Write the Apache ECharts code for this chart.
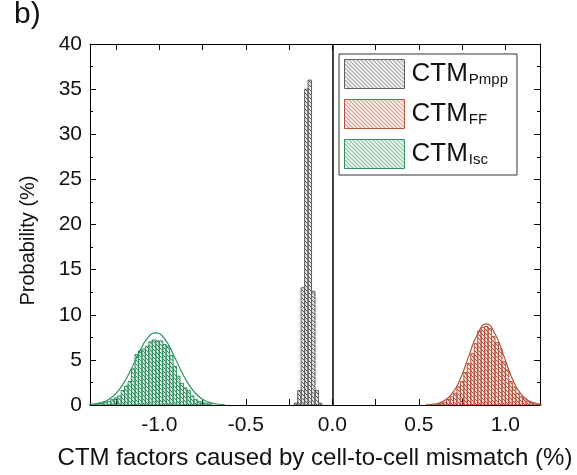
<!DOCTYPE html>
<html>
<head>
<meta charset="utf-8">
<script src="https://cdn.jsdelivr.net/npm/echarts@6/dist/echarts.min.js"></script>
<style>
  html, body { margin: 0; padding: 0; background: #fff; }
  #chart { width: 577px; height: 475px; }
</style>
</head>
<body>
<div id="chart"></div>
<script>
// Histogram bin width (same for all three distributions)
const BIN = 0.02;

// CTM_Pmpp histogram: bin centres and probabilities (%)
const pmppCenters = [-0.21, -0.19, -0.17, -0.15, -0.13, -0.11, -0.09, -0.07];
const pmppValues  = [0.2, 1.6, 13.0, 35.0, 36.0, 12.6, 1.6, 0.2];

// CTM_FF histogram
const ffCenters = [0.61, 0.63, 0.65, 0.67, 0.69, 0.71, 0.73, 0.75, 0.77, 0.79,
                   0.81, 0.83, 0.85, 0.87, 0.89, 0.91, 0.93, 0.95, 0.97, 0.99,
                   1.01, 1.03, 1.05, 1.07, 1.09, 1.11, 1.13, 1.15, 1.17, 1.19];
const ffValues  = [0.1, 0.2, 0.3, 0.6, 0.9, 1.3, 2.0, 2.6, 3.6, 4.6,
                   5.7, 6.8, 8.2, 8.6, 8.7, 8.5, 7.6, 6.9, 6.2, 4.8,
                   3.9, 2.6, 2.0, 1.3, 0.9, 0.7, 0.4, 0.3, 0.2, 0.1];

// CTM_Isc histogram
const iscCenters = [-1.39, -1.37, -1.35, -1.33, -1.31, -1.29, -1.27, -1.25, -1.23, -1.21,
                    -1.19, -1.17, -1.15, -1.13, -1.11, -1.09, -1.07, -1.05, -1.03, -1.01,
                    -0.99, -0.97, -0.95, -0.93, -0.91, -0.89, -0.87, -0.85, -0.83, -0.81,
                    -0.79, -0.77, -0.75, -0.73, -0.71];
const iscValues  = [0.1, 0.1, 0.2, 0.2, 0.3, 0.4, 0.6, 0.8, 1.0, 1.6,
                    2.1, 2.6, 4.0, 5.6, 6.0, 6.2, 6.5, 7.0, 7.2, 7.1,
                    7.1, 6.7, 6.5, 5.5, 4.3, 3.2, 2.4, 1.9, 1.6, 1.0,
                    0.6, 0.4, 0.3, 0.2, 0.1];

// Fitted normal curves, sampled points [x, probability]
const ffFit = [[0.54, 0.02], [0.59, 0.1], [0.64, 0.4], [0.69, 1.2], [0.74, 2.9],
               [0.79, 5.5], [0.84, 7.9], [0.89, 9.0], [0.94, 7.9], [0.99, 5.5],
               [1.04, 2.9], [1.09, 1.2], [1.14, 0.4], [1.19, 0.1], [1.24, 0.02]];
const iscFit = [[-1.42, 0.03], [-1.37, 0.11], [-1.32, 0.35], [-1.27, 0.91], [-1.22, 2.0],
                [-1.17, 3.66], [-1.12, 5.65], [-1.07, 7.35], [-1.02, 8.0], [-0.97, 7.35],
                [-0.92, 5.65], [-0.87, 3.66], [-0.82, 2.0], [-0.77, 0.91], [-0.72, 0.35],
                [-0.67, 0.11], [-0.62, 0.03]];

// Axis ticks and labels
const xTickValues  = [-1.25, -1.0, -0.75, -0.5, -0.25, 0, 0.25, 0.5, 0.75, 1.0];
const xLabelValues = [-1.0, -0.5, 0, 0.5, 1.0];

const COLORS = { pmpp: '#5e5e5e', ff: '#b8513a', isc: '#2f9160' };
const FONT = '"Liberation Sans", Arial, Helvetica, sans-serif';

// Diagonal hatch fill ("\\\\" direction)
function hatch(color, tint, size) {
  const c = document.createElement('canvas');
  c.width = size; c.height = size;
  const g = c.getContext('2d');
  g.fillStyle = tint;
  g.fillRect(0, 0, size, size);
  g.strokeStyle = color;
  g.lineWidth = 1;
  for (const off of [-size, 0, size]) {
    g.beginPath();
    g.moveTo(-1 + off, -1);
    g.lineTo(size + 1 + off, size + 1);
    g.stroke();
  }
  return { image: c, repeat: 'repeat' };
}

const fills = {
  pmpp: hatch(COLORS.pmpp, 'rgba(94,94,94,0.18)', 4),
  ff:   hatch(COLORS.ff,   'rgba(184,81,58,0.18)', 4),
  isc:  hatch(COLORS.isc,  'rgba(47,145,96,0.18)', 4)
};
const legendFills = {
  pmpp: hatch(COLORS.pmpp, 'rgba(255,255,255,0)', 4),
  ff:   hatch(COLORS.ff,   'rgba(255,255,255,0)', 4),
  isc:  hatch(COLORS.isc,  'rgba(255,255,255,0)', 4)
};

function histSeries(name, centers, values, key) {
  return {
    type: 'custom',
    name: name,
    data: centers.map((c, i) => [c, values[i]]),
    encode: { x: 0, y: 1 },
    itemStyle: { color: fills[key], borderColor: COLORS[key], borderWidth: 1 },
    clip: true,
    z: 2,
    renderItem: function (params, api) {
      const c = api.value(0), v = api.value(1);
      const p0 = api.coord([c - BIN / 2, v]);
      const p1 = api.coord([c + BIN / 2, 0]);
      return {
        type: 'rect',
        shape: { x: p0[0], y: p0[1], width: p1[0] - p0[0], height: p1[1] - p0[1] },
        style: { fill: fills[key], stroke: COLORS[key], lineWidth: 1 }
      };
    }
  };
}

function fitSeries(name, pts, key) {
  return {
    type: 'line',
    name: name,
    data: pts,
    smooth: true,
    showSymbol: false,
    silent: true,
    clip: true,
    z: 3,
    lineStyle: { color: COLORS[key], width: 1.2 },
    itemStyle: { color: COLORS[key] }
  };
}

const tickStyle = { inside: true, length: 6, lineStyle: { color: '#000', width: 1 } };
const axisLine = { show: true, onZero: false, lineStyle: { color: '#000', width: 1 } };

const chart = echarts.init(document.getElementById('chart'), null, { renderer: 'canvas' });

chart.setOption({
  animation: false,
  backgroundColor: '#fff',
  grid: { left: 90, right: 37, top: 44, bottom: 68 },
  graphic: [{
    type: 'text', left: 14, top: 0,
    style: { text: 'b)', font: '30px ' + FONT, fill: '#111' }
  }],
  legend: {
    orient: 'vertical',
    left: 339, top: 54,
    padding: [5, 9, 6, 5],
    itemWidth: 60, itemHeight: 29, itemGap: 10,
    borderColor: '#333', borderWidth: 1,
    backgroundColor: '#fff',
    selectedMode: false,
    data: [
      { name: 'Pmpp', icon: 'rect', itemStyle: { color: legendFills.pmpp, borderColor: COLORS.pmpp, borderWidth: 1 } },
      { name: 'FF', icon: 'rect', itemStyle: { color: legendFills.ff, borderColor: COLORS.ff, borderWidth: 1 } },
      { name: 'Isc', icon: 'rect', itemStyle: { color: legendFills.isc, borderColor: COLORS.isc, borderWidth: 1 } }
    ],
    formatter: function (n) { return '{m|CTM}{s|' + n + '}'; },
    textStyle: {
      rich: {
        m: { fontSize: 26, lineHeight: 27, fontFamily: FONT, color: '#111', padding: [0, 0, 0, 2] },
        s: { fontSize: 15, lineHeight: 15, fontFamily: FONT, color: '#111', padding: [12, 0, 0, 1] }
      }
    }
  },
  xAxis: [{
    type: 'value', min: -1.4, max: 1.2,
    position: 'bottom',
    axisLine: axisLine,
    splitLine: { show: false },
    axisTick: Object.assign({ customValues: xTickValues }, tickStyle),
    axisLabel: {
      customValues: xLabelValues,
      formatter: v => v.toFixed(1),
      fontSize: 21, fontFamily: FONT, color: '#111', margin: 10
    },
    name: 'CTM factors caused by cell-to-cell mismatch (%)',
    nameLocation: 'middle', nameGap: 41,
    nameTextStyle: { fontSize: 24, fontFamily: FONT, color: '#111' }
  }, {
    type: 'value', min: -1.4, max: 1.2,
    position: 'top',
    axisLine: axisLine,
    splitLine: { show: false },
    axisTick: Object.assign({ customValues: xTickValues }, tickStyle),
    axisLabel: { show: false }
  }],
  yAxis: [{
    type: 'value', min: 0, max: 40, interval: 5,
    position: 'left',
    axisLine: axisLine,
    splitLine: { show: false },
    axisTick: tickStyle,
    minorTick: { show: true, splitNumber: 2, length: 3, lineStyle: { color: '#000' } },
    minorSplitLine: { show: false },
    axisLabel: { fontSize: 21, fontFamily: FONT, color: '#111', margin: 8 },
    name: 'Probability (%)',
    nameLocation: 'middle', nameGap: 52,
    nameTextStyle: { fontSize: 20, fontFamily: FONT, color: '#111', padding: [0, 32, 0, 0] }
  }, {
    type: 'value', min: 0, max: 40, interval: 5,
    position: 'right',
    axisLine: axisLine,
    splitLine: { show: false },
    axisTick: tickStyle,
    minorTick: { show: true, splitNumber: 2, length: 3, lineStyle: { color: '#000' } },
    axisLabel: { show: false }
  }],
  series: [
    histSeries('Isc', iscCenters, iscValues, 'isc'),
    histSeries('Pmpp', pmppCenters, pmppValues, 'pmpp'),
    histSeries('FF', ffCenters, ffValues, 'ff'),
    fitSeries('Isc fit', iscFit, 'isc'),
    fitSeries('FF fit', ffFit, 'ff'),
    {
      type: 'line', name: 'zero', data: [],
      markLine: {
        silent: true, symbol: 'none', label: { show: false },
        lineStyle: { color: '#000', width: 1.5, type: 'solid' },
        data: [{ xAxis: 0 }]
      }
    }
  ]
});
</script>
</body>
</html>
